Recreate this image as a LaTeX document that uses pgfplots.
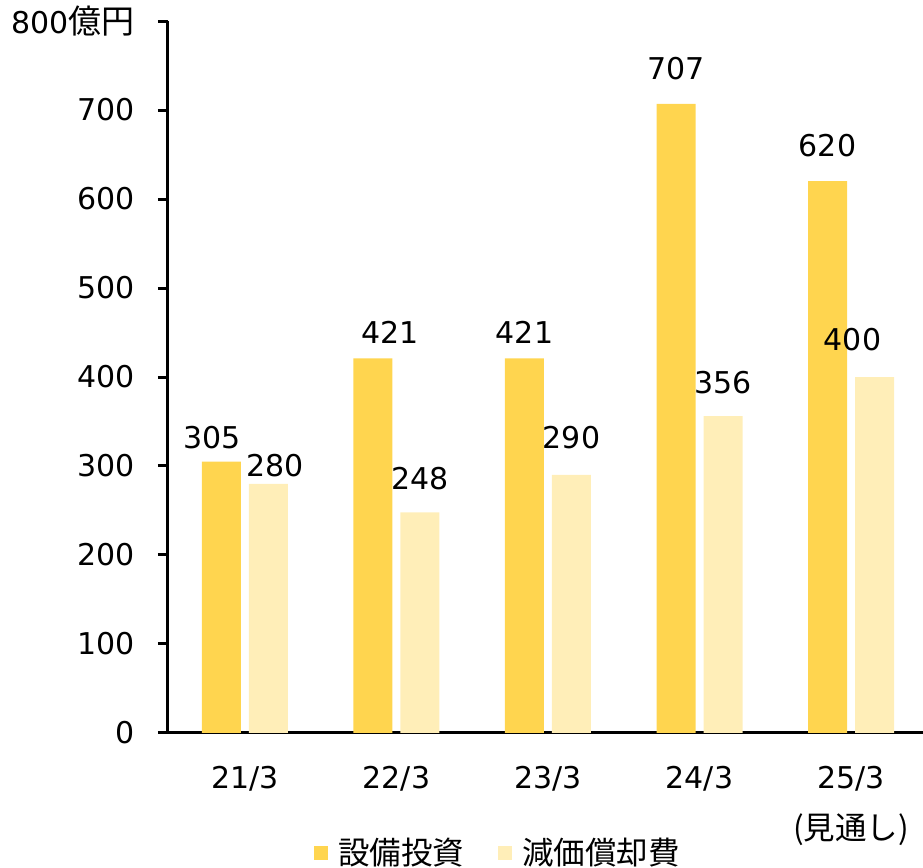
\documentclass[border=0pt]{standalone}
\usepackage{fontspec}
\setmainfont{DejaVu Sans}
\newfontfamily\jp{Noto Sans CJK JP}
\usepackage{pgfplots}
\usepackage{pgfplotstable}
\pgfplotsset{compat=1.18}
\definecolor{capex}{RGB}{255,213,79}
\definecolor{depr}{RGB}{255,238,184}
\pgfplotstableread{
x y dx dy
0 305 -9 24
1 421 17 26
2 421 0 26
3 707 0 35
4 620 0 36
}\capextab
\pgfplotstableread{
x y dx dy
0 280 7 18
1 248 0 34
2 290 0 37
3 356 0 34
4 400 -22 37
}\deprtab
\begin{document}
\begin{tikzpicture}[font=\fontsize{15}{18}\selectfont]
\path[use as bounding box] (0,0) rectangle (461.5pt,434pt);
\begin{axis}[
  at={(84pt,67.5pt)}, anchor=south west,
  scale only axis, width=377.5pt, height=356pt,
  xmin=-0.508, xmax=4.475, ymin=0, ymax=800,
  axis x line=bottom, axis y line=left,
  axis line style={-, line width=1.5pt, black},
  ytick={0,100,...,800},
  yticklabels={0,100,200,300,400,500,600,700,{800{\jp\fontsize{16.5}{18}\selectfont 億円}}},
  yticklabel style={anchor=east, inner sep=0pt, xshift=-11.5pt},
  ytick style={line width=1.5pt, black},
  tick align=outside, major tick length=5pt,
  xtick={0,1,2,3,4},
  xticklabels={21/3,22/3,23/3,24/3,25/3},
  xtick style={draw=none},
  xticklabel style={anchor=center, inner sep=0pt, yshift=-18pt},
  ybar, bar width=19.5pt,
  clip=false,
  /pgf/number format/assume math mode=true,
  nodes near coords,
  visualization depends on={\thisrow{dx}\as\dx},
  visualization depends on={\thisrow{dy}\as\dy},
  every node near coord/.append style={anchor=center, inner sep=0pt, xshift={0.5pt*\dx}, yshift={0.5pt*\dy}, black},
  legend style={at={(rel axis cs:0.436,-0.1685)}, anchor=center, draw=none, fill=none,
    legend columns=2, font=\jp\fontsize{15.75}{18}\selectfont,
    nodes={inner sep=0pt},
    /tikz/every odd column/.append style={column sep=5pt},
    /tikz/every even column/.append style={column sep=17pt}},
]
\addplot[fill=capex, draw=none, bar shift=-11.75pt,
  legend image code/.code={\fill[capex] (0pt,-3.5pt) rectangle (7pt,3.5pt);}]
  table[x=x, y=y] {\capextab};
\addlegendentry{設備投資}
\addplot[fill=depr, draw=none, bar shift=11.75pt,
  legend image code/.code={\fill[depr] (0pt,-3.5pt) rectangle (7pt,3.5pt);}]
  table[x=x, y=y] {\deprtab};
\addlegendentry{減価償却費}
\node[font=\jp\fontsize{15.75}{18}\selectfont, anchor=center, inner sep=0pt] at (axis cs:4,0) [yshift=-48.5pt] {(見通し)};
\end{axis}
\end{tikzpicture}
\end{document}
